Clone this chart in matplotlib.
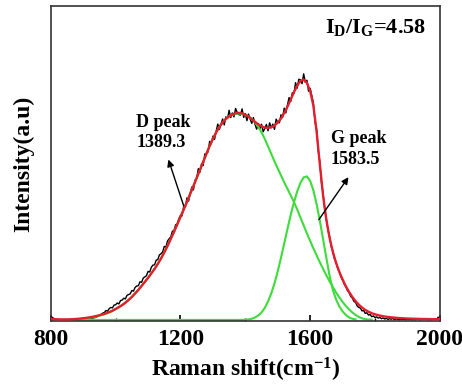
import numpy as np
import matplotlib
matplotlib.use("Agg")
import matplotlib.pyplot as plt
from matplotlib.ticker import MultipleLocator

plt.rcParams["font.family"] = ["Liberation Serif", "DejaVu Serif"]
plt.rcParams["font.weight"] = "bold"
plt.rcParams["mathtext.fontset"] = "custom"
plt.rcParams["mathtext.rm"] = "Liberation Serif:bold"
plt.rcParams["mathtext.bf"] = "Liberation Serif:bold"
plt.rcParams["mathtext.it"] = "Liberation Serif:bold"

# measured spectrum, Raman shift 800..2000 every 5 cm-1
raw_shift = np.arange(800, 2001, 5)
raw_int = [
    3.5, 2.5, 1.2, 0.6, 0.3, 0.2, 0.0, 0.1, 0.0, 0.2, 0.1, 0.0, 0.2, 0.1, 0.3, 0.2, 0.4, 0.3, 0.6, 0.5,
    0.8, 0.7, 1.1, 1.0, 1.5, 1.4, 2.0, 2.2, 2.8, 3.5, 4.4, 5.5, 6.8, 7.4, 9.3, 8.8, 11.2, 12.5, 12.0, 14.8,
    15.2, 16.9, 16.0, 19.4, 19.8, 21.7, 21.0, 24.6, 25.3, 26.1, 29.4, 28.8, 32.5, 33.9, 34.2, 38.1, 37.6, 41.8, 43.0, 44.2,
    48.5, 47.9, 52.6, 54.8, 55.1, 59.7, 60.4, 64.9, 66.2, 68.0, 73.5, 72.8, 78.9, 81.2, 83.0, 88.6, 89.4, 95.1, 96.0, 101.3,
    104.5, 104.0, 114.1, 113.0, 122.1, 118.7, 126.8, 132.9, 130.0, 139.7, 141.4, 151.2, 147.6, 156.2, 154.3, 165.9, 166.4, 167.9, 178.6, 176.0,
    183.7, 180.4, 188.6, 195.8, 190.4, 195.6, 200.9, 194.9, 203.0, 201.3, 209.6, 202.3, 206.9, 203.0, 211.4, 207.4, 205.2, 204.8, 211.0, 202.5,
    206.3, 199.2, 205.8, 200.6, 196.5, 202.3, 195.3, 190.7, 196.3, 190.9, 195.6, 188.1, 191.3, 195.4, 189.1, 197.0, 192.1, 195.8, 190.5, 200.7,
    197.8, 197.1, 205.1, 202.4, 211.7, 206.9, 215.0, 222.3, 218.3, 227.1, 226.3, 237.2, 231.7, 240.6, 240.1, 236.2, 246.0, 237.5, 239.6, 228.7,
    231.5, 224.0, 217.0, 198.0, 190.5, 169.0, 157.5, 137.0, 126.0, 110.5, 101.0, 89.5, 83.0, 73.5, 68.5, 61.0, 57.5, 51.5, 48.0, 43.0,
    40.0, 36.0, 33.0, 29.5, 27.5, 23.5, 22.0, 18.5, 17.5, 14.0, 12.5, 11.8, 9.0, 9.5, 6.5, 7.2, 4.8, 5.5, 3.2, 4.0,
    2.4, 3.1, 1.8, 2.6, 1.2, 2.0, 0.9, 1.6, 0.5, 1.3, 0.7, 1.5, 0.3, 1.1, 0.6, 0.2, 1.0, 0.4, 0.8, 0.1,
    0.9, 0.3, 0.7, 0.0, 0.6, 0.2, 1.0, 0.4, 0.1, 0.8, 0.3, 0.9, 0.2, 0.6, 0.0, 0.7, 0.4, 1.1, 0.5, 2.8,
    1.0,
]

# fitted curves, every 10 cm-1
fit_shift = np.arange(800, 2001, 10)
fit_total = [
    1.0, 0.8, 0.6, 0.5, 0.5, 0.5, 0.6, 0.8, 1.0, 1.3,
    1.7, 2.1, 2.6, 3.2, 3.9, 4.7, 5.6, 6.6, 7.8, 9.2,
    11.0, 12.8, 14.8, 17.2, 20.0, 23.0, 26.5, 30.0, 34.0, 38.0,
    42.0, 46.5, 51.0, 56.0, 61.5, 67.5, 74.0, 81.0, 88.0, 95.5,
    103.0, 110.5, 118.0, 126.0, 134.0, 142.0, 150.0, 158.0, 166.0, 174.0,
    181.0, 187.5, 193.0, 197.5, 201.0, 203.5, 205.5, 206.6, 207.0, 206.6,
    205.3, 203.2, 200.7, 198.0, 195.5, 193.5, 192.3, 192.0, 192.6, 194.3,
    197.2, 201.4, 206.8, 213.2, 220.3, 227.6, 234.2, 238.9, 240.2, 237.0,
    229.0, 214.0, 188.0, 155.0, 124.0, 100.0, 82.0, 68.0, 57.0, 48.0,
    40.5, 33.8, 28.0, 23.0, 18.8, 15.3, 12.4, 10.0, 8.2, 6.7,
    5.6, 4.7, 4.0, 3.4, 3.0, 2.6, 2.3, 2.0, 1.8, 1.6,
    1.4, 1.3, 1.2, 1.1, 1.0, 0.9, 0.9, 0.8, 0.8, 0.7,
    0.7,
]
d_peak = [
    0.0, 0.0, 0.0, 0.1, 0.1, 0.2, 0.3, 0.4, 0.6, 0.9,
    1.2, 1.6, 2.1, 2.7, 3.4, 4.2, 5.1, 6.2, 7.5, 9.0,
    10.8, 12.7, 14.8, 17.2, 20.0, 23.0, 26.5, 30.0, 34.0, 38.0,
    42.0, 46.5, 51.0, 56.0, 61.5, 67.5, 74.0, 81.0, 88.0, 95.5,
    103.0, 110.5, 118.0, 126.0, 134.0, 142.0, 150.0, 158.0, 166.0, 174.0,
    181.0, 187.5, 193.0, 197.5, 201.0, 203.5, 205.0, 206.0, 206.3, 206.0,
    205.0, 203.5, 201.0, 197.5, 193.0, 187.5, 181.0, 173.5, 166.0, 158.5,
    151.5, 144.5, 137.5, 131.0, 124.5, 118.0, 110.5, 102.5, 94.5, 86.5,
    79.0, 71.5, 64.5, 57.5, 51.0, 44.5, 38.5, 33.0, 27.5, 22.5,
    18.0, 14.0, 10.5, 7.5, 5.0, 3.0, 1.6, 0.8, 0.4, 0.2,
]
g_peak = [
    0.0, 0.0, 0.0, 0.0, 0.0, 0.0, 0.0, 0.0, 0.0, 0.0,
    0.0, 0.0, 0.0, 0.0, 0.0, 0.0, 0.0, 0.0, 0.0, 0.0,
    0.0, 0.0, 0.0, 0.0, 0.0, 0.0, 0.0, 0.0, 0.0, 0.0,
    0.0, 0.0, 0.0, 0.0, 0.0, 0.0, 0.0, 0.0, 0.0, 0.0,
    0.0, 0.0, 0.0, 0.0, 0.0, 0.0, 0.0, 0.0, 0.0, 0.0,
    0.0, 0.0, 0.0, 0.0, 0.0, 0.0, 0.0, 0.0, 0.0, 0.0,
    0.3, 0.6, 1.2, 2.5, 4.5, 7.5, 12.0, 18.5, 26.5, 36.5,
    48.5, 62.0, 76.5, 91.0, 105.0, 117.5, 128.5, 137.0, 142.5, 143.5,
    139.0, 129.5, 115.5, 99.0, 80.5, 62.0, 44.0, 30.0, 20.5, 13.5,
    8.5, 5.0, 2.5, 1.2, 0.5,
]

d_pos, g_pos = 1389.3, 1583.5
ratio = 4.58

red = "#e31e2d"
green = "#3ddc3a"

fig = plt.figure(figsize=(4.62, 3.89), dpi=100)
ax = fig.add_axes([0.110, 0.175, 0.842, 0.810])

ax.plot(raw_shift, raw_int, color="black", lw=1.0, zorder=1)
ax.plot(fit_shift[:len(d_peak)], d_peak, color=green, lw=1.5, zorder=2)
ax.plot(fit_shift[:len(g_peak)], g_peak, color=green, lw=1.5, zorder=2)
ax.plot(fit_shift, fit_total, color=red, lw=1.7, zorder=3)

ax.set_xlim(800, 2000)
ax.set_ylim(-1, 314)
ax.xaxis.set_major_locator(MultipleLocator(400))
ax.xaxis.set_minor_locator(MultipleLocator(200))
ax.tick_params(axis="x", which="major", direction="in", length=4, width=1.2,
               labelsize=17, pad=6)
ax.tick_params(axis="x", which="minor", direction="in", length=2.5, width=1.0)
ax.set_yticks([])
for s in ax.spines.values():
    s.set_linewidth(1.2)
    s.set_color("#333333")

ax.set_xlabel(r"Raman shift(cm$^{-1}$)", fontsize=17, fontweight="bold", labelpad=4)
ax.set_ylabel("Intensity(a.u)", fontsize=17, fontweight="bold", labelpad=12)

ax.text(0.704, 0.914, r"I$_\mathrm{D}$/I$_\mathrm{G}$=" + f"{ratio:.2f}",
        transform=ax.transAxes, fontsize=16, fontweight="bold",
        ha="left", va="baseline")

ax.annotate("", xy=(1160, 163), xytext=(1212, 112),
            arrowprops=dict(arrowstyle="-|>", color="black", lw=1.0,
                            mutation_scale=10))
ax.text(1064, 187.5, f"D peak\n{d_pos}", fontsize=13, fontweight="bold",
        ha="left", va="center", linespacing=1.25)

ax.annotate("", xy=(1723, 145), xytext=(1622, 98),
            arrowprops=dict(arrowstyle="-|>", color="black", lw=1.0,
                            mutation_scale=10))
ax.text(1664, 171, f"G peak\n{g_pos}", fontsize=13, fontweight="bold",
        ha="left", va="center", linespacing=1.25)

fig.savefig("out.png", dpi=100)
